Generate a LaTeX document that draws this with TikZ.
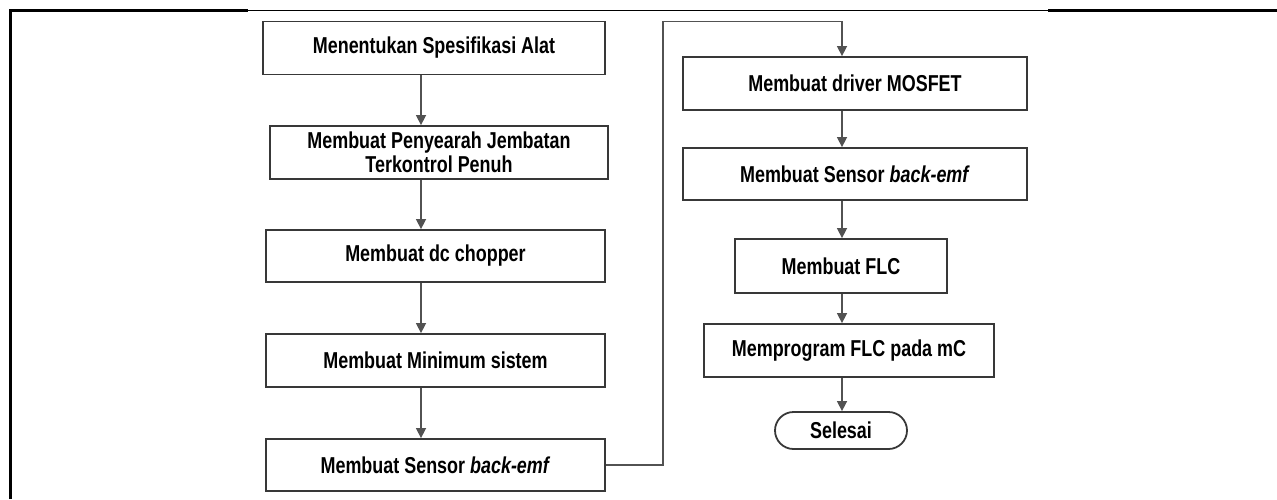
\documentclass[tikz,border=0pt]{standalone}
\usepackage{fontspec}
\newfontfamily\boxfont[FakeStretch=0.78]{Liberation Sans}
\usetikzlibrary{arrows.meta,shapes.misc}
\tikzset{
  stepbox/.style={draw=black!78, line width=1.8pt, fill=white, inner sep=0pt,
    align=center, font=\boxfont\bfseries\fontsize{23}{23.5}\selectfont},
  endbox/.style={stepbox, rounded rectangle},
  conn/.style={draw=black!68, line width=1.5pt},
  arr/.style={conn, -{Triangle[length=10pt,width=10pt]}},
  frame/.style={draw=black, line width=2.6pt},
  framethin/.style={draw=black, line width=1.1pt}
}
\begin{document}
\begin{tikzpicture}[x=1pt,y=-1pt]
\useasboundingbox (0,0) rectangle (1277,499);
% frame
\draw[frame] (10.5,499) -- (10.5,10.5) -- (248,10.5);
\draw[framethin] (248,10.5) -- (1048,10.5);
\draw[frame] (1048,10.5) -- (1277,10.5);
% left column
\node[stepbox, minimum width=342pt, minimum height=53pt] (b1) at (434,48) {Menentukan Spesifikasi Alat};
\node[stepbox, minimum width=338pt, minimum height=53pt] (b2) at (439,152.5) {Membuat Penyearah Jembatan\\Terkontrol Penuh};
\node[stepbox, minimum width=339pt, minimum height=52pt] (b3) at (435.5,256) {Membuat dc chopper};
\node[stepbox, minimum width=339pt, minimum height=53pt] (b4) at (435.5,360.5) {Membuat Minimum sistem};
\node[stepbox, minimum width=339pt, minimum height=52pt] (b5) at (435.5,465) {Membuat Sensor \textit{back-emf}};
% right column
\node[stepbox, minimum width=344pt, minimum height=53pt] (b6) at (855,83.5) {Membuat driver MOSFET};
\node[stepbox, minimum width=344pt, minimum height=52pt] (b7) at (855,174) {Membuat Sensor \textit{back-emf}};
\node[stepbox, minimum width=212pt, minimum height=54pt] (b8) at (841,266) {Membuat FLC};
\node[stepbox, minimum width=290pt, minimum height=53pt] (b9) at (849,350.5) {Memprogram FLC pada mC};
\node[endbox, minimum width=132pt, minimum height=37pt] (b10) at (841,430.5) {Selesai};
% connector helpers
\coordinate (lx) at (421,0);
\coordinate (rx) at (842,0);
\coordinate (loopb) at (663,465);
\coordinate (loopt) at (663,21.7);
\coordinate (loopr) at (842,21.7);
% connectors
\draw[arr] (b1.south -| lx) -- (b2.north -| lx);
\draw[arr] (b2.south -| lx) -- (b3.north -| lx);
\draw[arr] (b3.south -| lx) -- (b4.north -| lx);
\draw[arr] (b4.south -| lx) -- (b5.north -| lx);
\draw[arr] (b5.east) -- (loopb) -- (loopt) -- (loopr) -- (b6.north -| rx);
\draw[arr] (b6.south -| rx) -- (b7.north -| rx);
\draw[arr] (b7.south -| rx) -- (b8.north -| rx);
\draw[arr] (b8.south -| rx) -- (b9.north -| rx);
\draw[arr] (b9.south -| rx) -- (b10.north -| rx);
\end{tikzpicture}
\end{document}
